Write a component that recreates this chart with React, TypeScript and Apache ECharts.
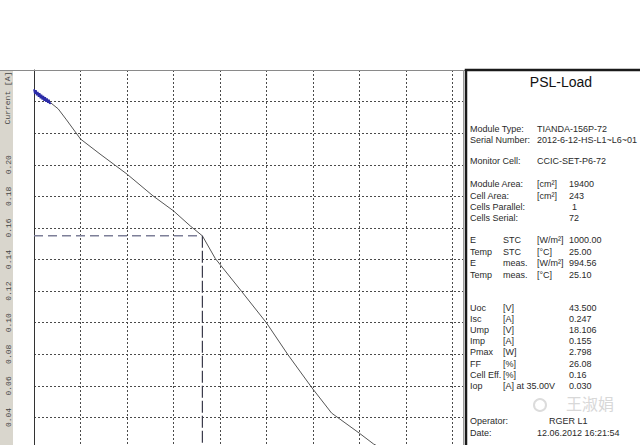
import React, { useEffect, useRef } from "react";
import * as echarts from "echarts";

// ---- data ----
const noiseVoltage = [0, 0.1, 0.2, 0.3, 0.4, 0.5, 0.6, 0.7, 0.8, 0.9, 1.0, 1.1, 1.2, 1.3, 1.4, 1.5, 1.6, 1.7, 1.8];
const noiseCurrent = [0.2478, 0.2450, 0.2472, 0.2440, 0.2462, 0.2430, 0.2454, 0.2421, 0.2444, 0.2413, 0.2436, 0.2405, 0.2428, 0.2399, 0.2420, 0.2392, 0.2412, 0.2386, 0.2394];
const curveVoltage = [1.8, 2.6, 3.5, 5.0, 7.1, 10.0, 12.8, 15.0, 16.8, 18.106, 19.5, 22.3, 25.0, 27.3, 29.9, 32.0, 35.0, 36.5, 40.0, 43.5];
const curveCurrent = [0.2392, 0.2354, 0.2284, 0.2163, 0.2068, 0.1941, 0.1803, 0.1708, 0.1613, 0.155, 0.1406, 0.12, 0.0999, 0.0798, 0.0587, 0.0428, 0.030, 0.0233, 0.012, 0];
const mppVoltage = 18.106;
const mppCurrent = 0.155;
const yMin = 0;
const yMax = 0.26;
const yStep = 0.02;
const yLabelHideAbove = 0.21;
const yLabelHideBelow = 0.03;
const xMin = 0;
const xMax = 50;
const xStep = 5;
const axisName = "Current [A]";

const panelTitle = "PSL-Load";
const panelLabels = ["Module Type:", "Serial Number:", "Monitor Cell:", "Module Area:", "Cell Area:", "Cells Parallel:", "Cells Serial:", "E", "Temp", "E", "Temp", "Uoc", "Isc", "Ump", "Imp", "Pmax", "FF", "Cell Eff.", "Iop", "Operator:", "Date:"];
const panelCond = ["", "", "", "", "", "", "", "STC", "STC", "meas.", "meas.", "[V]", "[A]", "[V]", "[A]", "[W]", "[%]", "[%]", "[A] at 35.00V", "", ""];
const panelUnits = ["TIANDA-156P-72", "2012-6-12-HS-L1~L6~01", "CCIC-SET-P6-72", "[cm²]", "[cm²]", "", "", "[W/m²]", "[°C]", "[W/m²]", "[°C]", "", "", "", "", "", "", "", "", "", "12.06.2012 16:21:54"];
const panelValues = ["", "", "", "19400", "243", "1", "72", "1000.00", "25.00", "994.56", "25.10", "43.500", "0.247", "18.106", "0.155", "2.798", "26.08", "0.16", "0.030", "", ""];
const operatorName = "RGER L1";
const watermark = "王淑娟";

// layout (positions only)
const rowY = [129, 140, 161, 184, 196, 207, 218, 240, 252, 263, 275, 308, 319, 330, 341, 352, 364, 375, 386, 421, 433];
const colX = [470, 503, 537, 569];

export default function App() {
  const ref = useRef<HTMLDivElement>(null);
  useEffect(() => {
    if (!ref.current) return;
    const chart = echarts.init(ref.current, null, { renderer: "svg" });
    const txtStyle = { fontFamily: "Liberation Sans, Arial", fontSize: 9, fill: "#2a2a2a", verticalAlign: "middle" as const };
    const panelTexts: any[] = [];
    panelLabels.forEach((t, i) => {
      const cols = [t, panelCond[i], panelUnits[i], panelValues[i]];
      cols.forEach((c, j) => {
        if (!c) return;
        panelTexts.push({ type: "text", x: colX[j] + (j === 3 && i === 5 ? 3 : 0), y: rowY[i], z: 102, style: { ...txtStyle, text: c } });
      });
    });
    panelTexts.push({ type: "text", x: 549, y: 421, z: 102, style: { ...txtStyle, text: operatorName } });

    const option: any = {
      animation: false,
      backgroundColor: "#ffffff",
      grid: { left: 34, top: 70, width: 465, height: 410.7, show: false },
      xAxis: {
        type: "value", min: xMin, max: xMax, interval: xStep,
        axisLine: { show: false }, axisTick: { show: false }, axisLabel: { show: false },
        splitLine: { show: true, lineStyle: { color: "#4a4a4a", width: 1, type: [2, 2] } },
      },
      yAxis: {
        type: "value", min: yMin, max: yMax, interval: yStep,
        axisLine: { show: true, onZero: false, lineStyle: { color: "#333", width: 1 } },
        axisTick: { show: false },
        axisLabel: {
          show: true, rotate: 90, margin: 22,
          fontFamily: "Liberation Mono, monospace", fontSize: 8, color: "#444",
          formatter: (v: number) => (v > yLabelHideAbove || v < yLabelHideBelow ? "" : v.toFixed(2)),
        },
        splitLine: { show: true, lineStyle: { color: "#4a4a4a", width: 1, type: [2, 2] } },
      },
      graphic: [
        { type: "rect", z: -10, silent: true, shape: { x: 0, y: 70, width: 13, height: 420 }, style: { fill: "#d9d6cd" } },
        { type: "line", z: 50, shape: { x1: 0, y1: 70.5, x2: 466, y2: 70.5 }, style: { stroke: "#8a8a8a", lineWidth: 1 } },
        { type: "text", z: 50, x: 7, y: 98, rotation: Math.PI / 2, style: { text: axisName, fontFamily: "Liberation Mono, monospace", fontSize: 8, fill: "#444", align: "center", verticalAlign: "middle" } },
        { type: "rect", z: 100, shape: { x: 466, y: 70, width: 190, height: 440 }, style: { fill: "#ffffff", stroke: "#1a1a1a", lineWidth: 2.5 } },
        { type: "line", z: 101, shape: { x1: 463.5, y1: 70, x2: 463.5, y2: 490 }, style: { stroke: "#9a9a9a", lineWidth: 1 } },
        { type: "text", z: 102, x: 561, y: 82, style: { text: panelTitle, fontFamily: "Liberation Sans, Arial", fontSize: 14, fill: "#111", align: "center", verticalAlign: "middle" } },
        { type: "text", z: 101, x: 590, y: 403, style: { text: watermark, fontFamily: "Noto Sans CJK SC", fontSize: 16, fill: "#d8d8d8", align: "center", verticalAlign: "middle" } },
        { type: "circle", z: 101, shape: { cx: 540, cy: 405, r: 6 }, style: { fill: "none", stroke: "#dcdcdc", lineWidth: 2 } },
        ...panelTexts,
      ],
      series: [
        {
          type: "line", showSymbol: false, symbol: "none", z: 3,
          data: curveVoltage.map((v, i) => [v, curveCurrent[i]]),
          lineStyle: { color: "#555", width: 1 },
        },
        {
          type: "line", showSymbol: false, symbol: "none", z: 4,
          data: noiseVoltage.map((v, i) => [v, noiseCurrent[i]]),
          lineStyle: { color: "#2c2ca8", width: 1.8 },
        },
        {
          type: "line", showSymbol: false, symbol: "none", z: 5,
          data: [[0, mppCurrent], [mppVoltage, mppCurrent]],
          lineStyle: { color: "#7d7f98", width: 1.5, type: [9, 5] },
        },
        {
          type: "line", showSymbol: false, symbol: "none", z: 5,
          data: [[mppVoltage, mppCurrent], [mppVoltage, 0]],
          lineStyle: { color: "#3a3a4a", width: 1.2, type: [12, 3] },
        },
      ],
    };
    chart.setOption(option);
    return () => chart.dispose();
  }, []);
  return (
    <div style={{ position: "absolute", left: 0, top: 0, width: 640, height: 445, overflow: "hidden" }}>
      <div ref={ref} style={{ width: 640, height: 490 }} />
    </div>
  );
}
